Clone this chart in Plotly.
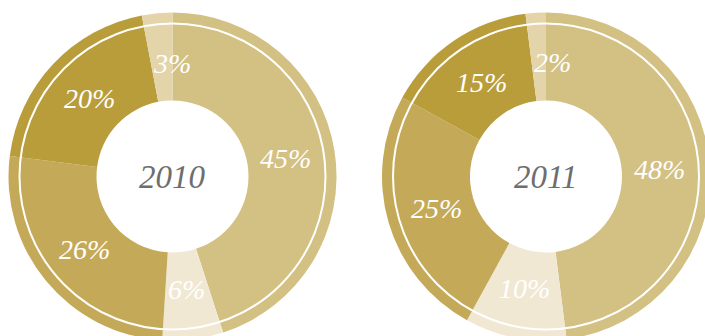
import math
import plotly.graph_objects as go

# Share of each segment per year, clockwise from 12 o'clock
years = ["2010", "2011"]
segments = ["A", "B", "C", "D", "E"]
values_2010 = [45, 6, 26, 20, 3]
values_2011 = [48, 10, 25, 15, 2]
seg_colors = ["#d3c083", "#f1e8d3", "#c4aa58", "#b99d3b", "#e4d4a9"]

# the canvas is a little larger than the visible page; the overflow is clipped
W, H = 712, 353
centers = [(172.5, 176.5), (546.0, 176.5)]   # pixel centres of the two donuts
R_OUT = 164
R_HOLE = 76
R_RING = 153          # white separating circle
R_LABEL = 114
LABEL_SIZE = 28

fig = go.Figure()

for year, vals, (cx, cy) in zip(years, [values_2010, values_2011], centers):
    fig.add_trace(go.Pie(
        labels=segments,
        values=vals,
        sort=False,
        direction="clockwise",
        rotation=0,
        hole=R_HOLE / R_OUT,
        marker=dict(colors=seg_colors, line=dict(width=0)),
        textinfo="none",
        hoverinfo="label+value",
        showlegend=False,
        domain=dict(
            x=[(cx - R_OUT) / W, (cx + R_OUT) / W],
            y=[(H - cy - R_OUT) / H, (H - cy + R_OUT) / H],
        ),
    ))

    # white circle between the ring and the outer band
    fig.add_shape(type="circle", xref="x", yref="y",
                  x0=cx - R_RING, x1=cx + R_RING, y0=cy - R_RING, y1=cy + R_RING,
                  line=dict(color="white", width=2), fillcolor="rgba(0,0,0,0)")

    # percentage labels: centred on the slice's mid angle, or starting at the
    # slice's leading edge when the slice is too narrow for the text
    total = sum(vals)
    acc = 0
    for v in vals:
        start = acc / total * 2 * math.pi
        mid = (acc + v / 2) / total * 2 * math.pi
        end = (acc + v) / total * 2 * math.pi
        acc += v
        text = f"{v}%"
        text_w = LABEL_SIZE * (0.5 * (len(text) - 1) + 0.83)
        arc_w = R_LABEL * (end - start)
        if arc_w >= text_w:
            ang, anchor = mid, "center"
        else:
            ang, anchor = start, "left"
        fig.add_annotation(
            x=cx + R_LABEL * math.sin(ang), y=cy - R_LABEL * math.cos(mid),
            xref="x", yref="y", text=text, showarrow=False,
            xanchor=anchor, yanchor="middle",
            font=dict(family="Liberation Serif", size=LABEL_SIZE, color="white", style="italic"),
        )

    # year in the centre of the donut
    fig.add_annotation(
        x=cx, y=cy, xref="x", yref="y", text=year, showarrow=False,
        xanchor="center", yanchor="middle",
        font=dict(family="Liberation Serif", size=33, color="#6e6e6e", style="italic"),
    )

fig.update_layout(
    width=W, height=H,
    margin=dict(l=0, r=0, t=0, b=0),
    paper_bgcolor="white", plot_bgcolor="rgba(0,0,0,0)",
    xaxis=dict(range=[0, W], visible=False, fixedrange=True),
    yaxis=dict(range=[H, 0], visible=False, fixedrange=True),
)

fig.write_html("out.html", post_script="document.body.style.overflow='hidden';")
